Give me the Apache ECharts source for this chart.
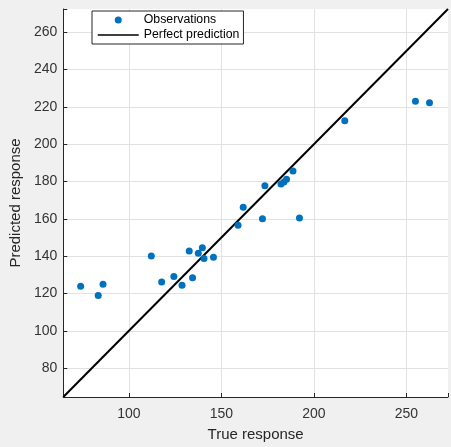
<!DOCTYPE html>
<html>
<head>
<meta charset="utf-8">
<script src="https://cdn.jsdelivr.net/npm/echarts@6/dist/echarts.min.js"></script>
<style>
html,body{margin:0;padding:0;background:#f0f0f0;}
#chart{width:451px;height:447px;}
</style>
</head>
<body>
<div id="chart"></div>
<script>
// Observations: true vs predicted response
const trueResponse = [73.9, 83.4, 86.0, 112.1, 117.7, 124.3, 128.7, 132.6, 134.4, 137.5, 139.7, 140.6, 145.7, 159.0, 161.8, 172.2, 173.5, 182.2, 183.8, 185.2, 188.7, 192.2, 216.7, 254.9, 262.5];
const predictedResponse = [123.9, 118.9, 125.0, 140.1, 126.2, 129.1, 124.4, 142.8, 128.4, 141.5, 144.5, 138.8, 139.4, 156.6, 166.2, 160.0, 177.8, 178.7, 179.7, 181.2, 185.6, 160.5, 212.6, 223.1, 222.2];
// Perfect prediction line endpoints (axis limits)
const axisLimits = [64.5, 272.5];
const xTickLabels = [100, 150, 200, 250];
const yTickLabels = [80, 100, 120, 140, 160, 180, 200, 220, 240, 260];

const obs = trueResponse.map((t, i) => [t, predictedResponse[i]]);
const perfect = axisLimits.map(v => [v, v]);

const chart = echarts.init(document.getElementById('chart'));
const font = 'Liberation Sans, Arial, Helvetica, sans-serif';
const axisCommon = {
  type: 'value',
  min: axisLimits[0],
  max: axisLimits[1],
  nameLocation: 'middle',
  nameTextStyle: {fontSize: 15, color: '#262626', fontFamily: font},
  axisLine: {show: true, lineStyle: {color: '#262626', width: 1}},
  axisTick: {show: true, inside: true, length: 4, lineStyle: {color: '#262626'}},
  splitLine: {show: true, showMinLine: false, showMaxLine: false, lineStyle: {color: '#e2e2e2', width: 1}}
};
chart.setOption({
  animation: false,
  backgroundColor: '#f0f0f0',
  grid: {left: 62, top: 9, width: 390, height: 391, show: true, backgroundColor: '#ffffff', borderWidth: 0},
  legend: {
    orient: 'vertical',
    left: 92, top: 11,
    padding: [3, 4, 3, 5],
    itemGap: 3,
    itemWidth: 41, itemHeight: 7,
    backgroundColor: '#ffffff',
    borderColor: '#262626', borderWidth: 1,
    textStyle: {fontSize: 12.3, color: '#000', fontFamily: font},
    data: [
      {name: 'Observations', icon: 'circle', itemStyle: {color: '#0072BD', opacity: 1}},
      {name: 'Perfect prediction', itemStyle: {color: 'rgba(0,0,0,0)', borderWidth: 0, opacity: 0}, lineStyle: {color: '#000', width: 1.5}}
    ]
  },
  xAxis: Object.assign({}, axisCommon, {
    name: 'True response', nameGap: 30,
    splitNumber: 5,
    axisLabel: {fontSize: 14, color: '#333', fontFamily: font, margin: 10,
      formatter: v => xTickLabels.includes(Math.round(v * 1000) / 1000) ? String(v) : ''}
  }),
  yAxis: Object.assign({}, axisCommon, {
    name: 'Predicted response', nameGap: 33,
    splitNumber: 10,
    axisLabel: {fontSize: 14, color: '#333', fontFamily: font, margin: 6,
      formatter: v => yTickLabels.includes(Math.round(v * 1000) / 1000) ? String(v) : ''}
  }),
  series: [
    {
      name: 'Observations', type: 'scatter', data: obs,
      symbol: 'circle', symbolSize: 7,
      itemStyle: {color: '#0072BD', opacity: 1}, z: 3
    },
    {
      name: 'Perfect prediction', type: 'line', data: perfect,
      symbol: 'none', lineStyle: {color: '#000000', width: 2},
      itemStyle: {color: '#000000'}, z: 2
    }
  ]
});
</script>
</body>
</html>
